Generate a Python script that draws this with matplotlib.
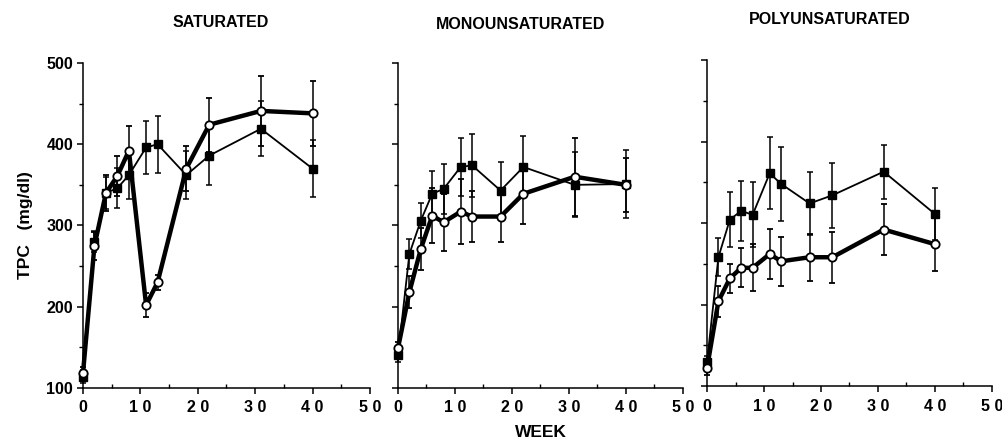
import matplotlib
matplotlib.use("Agg")
import matplotlib.pyplot as plt
from matplotlib.ticker import MultipleLocator

plt.rcParams['font.family'] = ['Liberation Sans', 'DejaVu Sans']
plt.rcParams['font.weight'] = 'bold'

# weeks of sampling
weeks = [0, 2, 4, 6, 8, 11, 13, 18, 22, 31, 40]

# filled squares (thin line) and open circles (thick line), per diet
sat_sq = [114, 280, 340, 346, 362, 396, 400, 362, 386, 419, 370]
sat_sq_err = [8, 13, 20, 25, 30, 33, 35, 30, 36, 34, 35]
sat_op = [118, 275, 340, 361, 392, 202, 230, 370, 424, 441, 438]
sat_op_err = [8, 17, 22, 25, 30, 15, 9, 28, 33, 43, 40]

mono_sq = [140, 265, 306, 339, 345, 372, 374, 343, 372, 350, 351]
mono_sq_err = [8, 18, 22, 28, 31, 36, 39, 35, 38, 40, 42]
mono_op = [149, 218, 271, 312, 304, 317, 311, 311, 339, 360, 350]
mono_op_err = [8, 20, 26, 34, 35, 40, 31, 31, 37, 48, 33]

poly_sq = [129, 258, 304, 315, 310, 361, 348, 324, 334, 363, 311]
poly_sq_err = [8, 23, 34, 37, 40, 44, 45, 39, 40, 33, 32]
poly_op = [122, 204, 232, 245, 245, 262, 253, 258, 258, 292, 274]
poly_op_err = [8, 19, 18, 24, 29, 31, 30, 29, 31, 31, 33]

titles = ['SATURATED', 'MONOUNSATURATED', 'POLYUNSATURATED']
xtick_vals = [0, 10, 20, 30, 40, 50]
xtick_labels = ['0', '1 0', '2 0', '3 0', '4 0', '5 0']
ytick_vals = [100, 200, 300, 400, 500]

fig = plt.figure(figsize=(10.02, 4.41), dpi=100)

# axes boxes in figure fraction (left, bottom, width, height)
boxes = [
    [0.0828, 0.1202, 0.2864, 0.7370],
    [0.3972, 0.1202, 0.2844, 0.7370],
    [0.7056, 0.1247, 0.2844, 0.7392],
]
title_y = [0.948, 0.944, 0.956]

panels = [
    (sat_sq, sat_sq_err, sat_op, sat_op_err),
    (mono_sq, mono_sq_err, mono_op, mono_op_err),
    (poly_sq, poly_sq_err, poly_op, poly_op_err),
]

for i, (sq, sq_err, op, op_err) in enumerate(panels):
    ax = fig.add_axes(boxes[i])

    ax.errorbar(weeks, sq, yerr=sq_err, color='black', lw=1.3,
                elinewidth=1.1, capsize=2.5, capthick=1.1,
                marker='s', ms=6, mfc='black', mec='black',
                clip_on=False, zorder=3)
    ax.errorbar(weeks, op, yerr=op_err, color='black', lw=3.2,
                elinewidth=1.1, capsize=2.5, capthick=1.1,
                marker='o', ms=6, mfc='white', mec='black', mew=1.3,
                clip_on=False, zorder=4)

    ax.set_xlim(0, 50)
    ax.set_ylim(100, 500)

    for side in ['top', 'right']:
        ax.spines[side].set_visible(False)
    ax.spines['left'].set_linewidth(1.1)
    ax.spines['bottom'].set_linewidth(1.1)

    ax.set_xticks(xtick_vals)
    ax.set_xticklabels(xtick_labels)
    ax.xaxis.set_minor_locator(MultipleLocator(5))
    ax.set_yticks(ytick_vals)
    ax.yaxis.set_minor_locator(MultipleLocator(50))
    ax.tick_params(axis='x', which='major', direction='out', length=4,
                   width=1.1, labelsize=11.5, pad=5)
    ax.tick_params(axis='x', which='minor', direction='in', length=3, width=1)
    ax.tick_params(axis='y', which='major', direction='out', length=4,
                   width=1.1, labelsize=11.5, pad=3)
    ax.tick_params(axis='y', which='minor', direction='out', length=3, width=1)

    if i == 0:
        ax.set_ylabel('TPC   (mg/dl)', fontsize=12.5, fontweight='bold', labelpad=10)
    else:
        ax.set_yticklabels([])

    if i == 1:
        ax.set_xlabel('WEEK', fontsize=12.5, fontweight='bold', labelpad=7)

    fig.text(boxes[i][0] + boxes[i][2] * (0.48 if i == 0 else 0.43),
             title_y[i], titles[i], ha='center', va='center',
             fontsize=11.5, fontweight='bold')

fig.savefig('out.png', dpi=100)
